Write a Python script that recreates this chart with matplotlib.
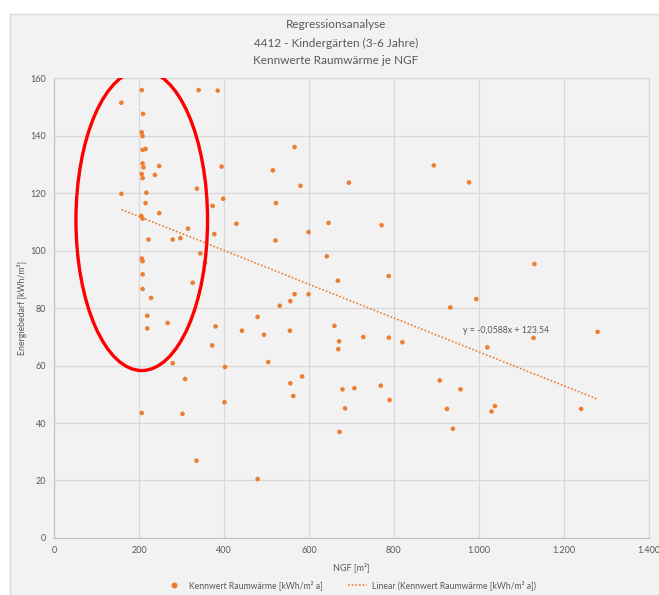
import matplotlib

matplotlib.use("Agg")
import matplotlib.pyplot as plt
import numpy as np
from matplotlib.patches import Ellipse, Rectangle
from matplotlib.ticker import FuncFormatter, MultipleLocator
from matplotlib.lines import Line2D

# NGF [m2] and heating demand [kWh/m2 a]
ngf = [
    206, 340, 385, 158, 209, 206, 208, 208, 215, 208,
    210, 247, 394, 515, 206, 237, 208, 336, 158, 217,
    398, 215, 522, 247, 373, 429, 205, 208, 315, 377,
    222, 279, 297, 521, 344, 206, 208, 355, 208, 326,
    208, 228, 531, 219, 479, 267, 380, 219, 442, 494,
    372, 504, 279, 402, 308, 566, 580, 894, 694, 646,
    771, 599, 642, 788, 668, 566, 599, 556, 933, 660,
    555, 671, 728, 788, 820, 669, 584, 556, 908, 769,
    679, 707, 977, 1131, 994, 1280, 1129, 1020, 957, 925,
    1038, 1030, 1241, 939, 563, 401, 790, 302, 685, 672,
    335, 479, 206,
]
kennwert = [
    155.8, 155.8, 155.6, 151.4, 147.5, 141.1, 139.8, 135.0, 135.3, 130.3,
    128.9, 129.4, 129.2, 127.9, 126.6, 126.3, 125.2, 121.5, 119.7, 120.1,
    118.0, 116.5, 116.5, 113.0, 115.5, 109.3, 112.0, 111.1, 107.6, 105.7,
    103.8, 103.8, 104.3, 103.5, 99.0, 97.2, 96.3, 95.7, 91.7, 88.8,
    86.6, 83.5, 80.8, 77.3, 76.9, 74.8, 73.6, 72.9, 72.1, 70.7,
    67.0, 61.2, 60.8, 59.5, 55.3, 136.0, 122.5, 129.6, 123.6, 109.6,
    108.8, 106.4, 98.0, 91.1, 89.5, 84.8, 84.8, 82.4, 80.2, 73.8,
    72.1, 68.4, 69.9, 69.7, 68.1, 65.7, 56.2, 53.8, 54.8, 53.0,
    51.7, 52.1, 123.7, 95.3, 83.1, 71.7, 69.6, 66.3, 51.7, 44.9,
    45.9, 44.0, 44.9, 38.0, 49.4, 47.2, 48.0, 43.2, 45.1, 36.9,
    26.9, 20.5, 43.5,
]

# trend line as printed on the chart
slope = -0.0588
intercept = 123.54

title_lines = [
    "Regressionsanalyse",
    "4412 - Kindergärten (3-6 Jahre)",
    "Kennwerte Raumwärme je NGF",
]

orange = "#ED7D31"
grey_txt = "#595959"
grid_col = "#D9D9D9"

plt.rcParams["font.family"] = ["Lato", "DejaVu Sans"]

fig = plt.figure(figsize=(6.59, 5.95), dpi=100)
fig.patch.set_facecolor("white")
fig.patches.append(Rectangle((10 / 659, -0.01), 1.0, 0.9765 + 0.01,
                             transform=fig.transFigure, facecolor="#F2F2F2",
                             edgecolor=grid_col, linewidth=1.0, zorder=-10))

ax = fig.add_axes([0.0824, 0.0958, 0.9018, 0.7731])
ax.set_facecolor("#F2F2F2")

ax.scatter(ngf, kennwert, s=11, color=orange, edgecolors="none", zorder=3,
           label="Kennwert Raumwärme [kWh/m² a]")

xs = np.array([min(ngf), max(ngf)])
ax.plot(xs, slope * xs + intercept, color=orange, linestyle=(0, (1, 1.2)),
        linewidth=1.2, zorder=2,
        label="Linear (Kennwert Raumwärme [kWh/m² a])")

eq = f"y = {slope:.4f}x + {intercept:.2f}".replace(".", ",")
ax.text(962, 72.3, eq, fontsize=6.3, color=grey_txt, ha="left", va="center")

# red highlight ellipse around the small buildings
ax.add_patch(Ellipse((206, 110.5), 310, 104.5, fill=False, edgecolor="#FF0000",
                     linewidth=2.4, zorder=4))

ax.set_xlim(0, 1400)
ax.set_ylim(0, 160)
ax.xaxis.set_major_locator(MultipleLocator(200))
ax.yaxis.set_major_locator(MultipleLocator(20))
ax.xaxis.set_major_formatter(FuncFormatter(lambda v, p: f"{v:,.0f}".replace(",", ".")))
ax.grid(True, color=grid_col, linewidth=0.9, zorder=0)
ax.set_axisbelow(True)
ax.tick_params(length=0, labelsize=6.5, labelcolor=grey_txt, pad=6)
for side in ["top", "right"]:
    ax.spines[side].set_color(grid_col)
for side in ["left", "bottom"]:
    ax.spines[side].set_color("#BFBFBF")

ax.set_xlabel("NGF [m²]", fontsize=6.5, color=grey_txt, labelpad=5)
ax.set_ylabel("Energiebedarf [kWh/m²]", fontsize=6.3, color=grey_txt, labelpad=2)

for i, line in enumerate(title_lines):
    fig.text(0.51, 1 - (25 + 18 * i) / 595, line, fontsize=8.5, color=grey_txt,
             ha="center", va="center")

handles = [
    Line2D([], [], marker="o", linestyle="none", color=orange, markersize=3.3),
    Line2D([], [], color=orange, linestyle=(0, (1, 1.2)), linewidth=1.2),
]
labels = ["Kennwert Raumwärme [kWh/m² a]", "Linear (Kennwert Raumwärme [kWh/m² a])"]
fig.legend(handles, labels, loc="center", bbox_to_anchor=(0.532, 1 - 585 / 595),
           ncol=2, frameon=False, fontsize=6.2, labelcolor=grey_txt,
           handlelength=2.2, columnspacing=3.0, handletextpad=0.6)

fig.savefig("out.png", dpi=100)
